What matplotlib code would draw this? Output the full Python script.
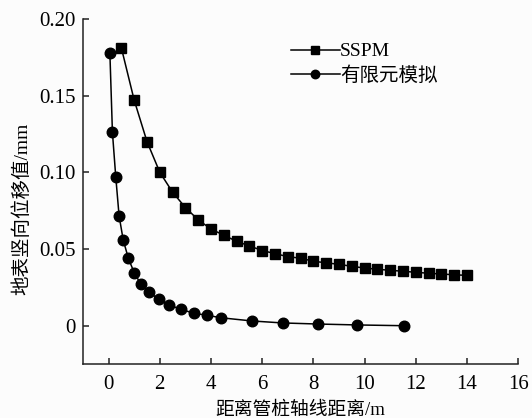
import matplotlib
matplotlib.use("Agg")
import matplotlib.pyplot as plt

plt.rcParams['font.family'] = ['Liberation Serif', 'Noto Sans CJK SC']
plt.rcParams['axes.unicode_minus'] = False

# SSPM prediction, every 0.5 m
sspm_x = [0.5, 1.0, 1.5, 2.0, 2.5, 3.0, 3.5, 4.0, 4.5, 5.0, 5.5, 6.0, 6.5, 7.0,
          7.5, 8.0, 8.5, 9.0, 9.5, 10.0, 10.5, 11.0, 11.5, 12.0, 12.5, 13.0, 13.5, 14.0]
sspm_y = [0.181, 0.147, 0.120, 0.100, 0.087, 0.077, 0.069, 0.063, 0.059, 0.055,
          0.052, 0.049, 0.047, 0.045, 0.044, 0.042, 0.041, 0.040, 0.0387, 0.0376,
          0.0368, 0.0361, 0.0355, 0.0348, 0.0342, 0.0337, 0.0332, 0.0328]

# finite element results
fem_x = [0.05, 0.15, 0.28, 0.41, 0.57, 0.77, 1.0, 1.26, 1.59, 1.96, 2.36, 2.83,
         3.33, 3.86, 4.38, 5.6, 6.8, 8.18, 9.71, 11.55]
fem_y = [0.178, 0.126, 0.097, 0.0716, 0.056, 0.044, 0.0346, 0.027, 0.0218, 0.0172,
         0.0135, 0.0107, 0.0081, 0.0068, 0.0052, 0.0031, 0.0018, 0.0011, 0.0005, 0.0]

xticks = [0, 2, 4, 6, 8, 10, 12, 14, 16]
yticks = [0, 0.05, 0.10, 0.15, 0.20]
ytick_labels = ['0', '0.05', '0.10', '0.15', '0.20']

fig = plt.figure(figsize=(5.32, 4.18), dpi=100, facecolor='#fcfcfc')
ax = fig.add_axes([0.156, 0.129, 0.818, 0.826])
ax.set_facecolor('#fcfcfc')

ax.plot(sspm_x, sspm_y, color='black', lw=1.1, marker='s', ms=6.8,
        label='SSPM')
ax.plot(fem_x, fem_y, color='black', lw=1.1, marker='o', ms=7.6,
        label='有限元模拟')

ax.set_xlim(-1, 16)
ax.set_ylim(-0.025, 0.20)
ax.set_xticks(xticks)
ax.set_yticks(yticks)
ax.set_yticklabels(ytick_labels)

for side in ('top', 'right'):
    ax.spines[side].set_visible(False)
for side in ('left', 'bottom'):
    ax.spines[side].set_linewidth(1.1)
    ax.spines[side].set_color('#222222')

ax.tick_params(direction='in', length=4, width=1.1, labelsize=15,
               colors='#222222', labelcolor='black')
ax.tick_params(axis='x', pad=8)
ax.tick_params(axis='y', pad=5)

ax.set_xlabel('距离管桩轴线距离/m', fontsize=13.5, labelpad=5)
ax.set_ylabel('地表竖向位移值/mm', fontsize=14, labelpad=5)
ax.yaxis.set_label_coords(-0.118, 0.45)

ax.legend(loc='upper left', bbox_to_anchor=(0.447, 0.97), frameon=False,
          fontsize=14, handlelength=2.5, handletextpad=0.0, markerscale=0.8,
          labelspacing=0.3, borderpad=0.2)

fig.savefig('out.png', dpi=100, facecolor=fig.get_facecolor())
